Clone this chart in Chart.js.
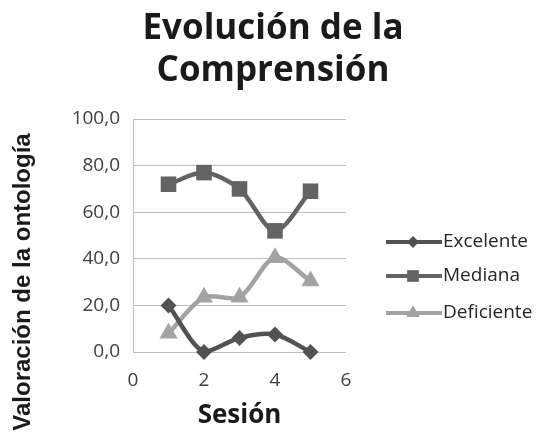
<!DOCTYPE html>
<html>
<head>
<meta charset="utf-8">
<script src="https://cdn.jsdelivr.net/npm/chart.js@4.4.0/dist/chart.umd.min.js"></script>
<style>
  html, body { margin: 0; padding: 0; background: #fff; }
  #wrap { width: 546px; height: 443px; position: relative; }
</style>
</head>
<body>
<div id="wrap"><canvas id="chart"></canvas></div>
<script>
// chart data
const sesiones = [1, 2, 3, 4, 5];
const excelente = [20, 0, 6, 7.5, 0];
const mediana = [72, 77, 70, 52, 69];
const deficiente = [8, 23.5, 23.5, 40.5, 30.5];
const seriesNames = ['Excelente', 'Mediana', 'Deficiente'];
const xTicks = [0, 2, 4, 6];
const yTicks = [0, 20, 40, 60, 80, 100];

const colors = ['#525252', '#636363', '#a3a3a3'];
const shapes = ['rectRot', 'rect', 'triangle'];
const radii = [8, 11, 10.5];

function toPoints(values) {
  return sesiones.map((s, i) => ({ x: s, y: values[i] }));
}

const allValues = [excelente, mediana, deficiente];
const datasets = allValues.map((vals, i) => ({
  label: seriesNames[i],
  data: toPoints(vals),
  showLine: true,
  borderColor: colors[i],
  backgroundColor: colors[i],
  borderWidth: 4.5,
  tension: 0.3,
  pointStyle: shapes[i],
  pointRadius: radii[i],
  pointBorderWidth: 0,
  clip: false,
  xAxisID: 'x',
  yAxisID: 'y'
}));

// y axis title and legend drawn by hand to match the original layout
const extras = {
  id: 'extras',
  afterDraw(chart) {
    const ctx = chart.ctx;
    ctx.save();
    // y title
    ctx.translate(23, 282);
    ctx.rotate(-Math.PI / 2);
    ctx.font = 'bold 24px "Liberation Sans"';
    ctx.fillStyle = '#1a1a1a';
    ctx.textAlign = 'center';
    ctx.textBaseline = 'middle';
    ctx.fillText('Valoración de la ontología', 0, 0);
    ctx.restore();

    // legend
    const legendY = [242, 276, 313];
    chart.data.datasets.forEach((ds, i) => {
      const y = legendY[i];
      ctx.save();
      ctx.strokeStyle = ds.borderColor;
      ctx.lineWidth = 4;
      ctx.beginPath();
      ctx.moveTo(386, y);
      ctx.lineTo(442, y);
      ctx.stroke();
      ctx.fillStyle = ds.backgroundColor;
      Chart.helpers.drawPoint(ctx, { pointStyle: ds.pointStyle, radius: ds.pointRadius * 0.75, borderWidth: 0 }, 413, y);
      ctx.font = '19px "Open Sans"';
      ctx.fillStyle = '#262626';
      ctx.textAlign = 'left';
      ctx.textBaseline = 'middle';
      ctx.fillText(ds.label, 443, y);
      ctx.restore();
    });
  }
};

new Chart(document.getElementById('chart'), {
  type: 'scatter',
  data: { datasets: datasets },
  options: {
    responsive: true,
    maintainAspectRatio: false,
    animation: false,
    layout: { padding: 0 },
    plugins: {
      legend: { display: false },
      tooltip: { enabled: false },
      title: {
        display: true,
        text: ['Evolución de la', 'Comprensión'],
        color: '#1a1a1a',
        font: { family: 'Open Sans', size: 35, weight: 'bold', lineHeight: 1.2 },
        padding: { top: 8, bottom: 27 }
      }
    },
    scales: {
      x: {
        type: 'linear',
        min: xTicks[0],
        max: xTicks[xTicks.length - 1],
        afterBuildTicks: (scale) => { scale.ticks = xTicks.map(v => ({ value: v })); },
        afterFit: (scale) => { scale.height = 91; },
        grid: { display: false, drawTicks: false },
        border: { display: false },
        ticks: { padding: 17, color: '#404040', font: { family: 'Open Sans', size: 19 } },
        title: {
          display: true,
          text: 'Sesión',
          color: '#1a1a1a',
          font: { family: 'Open Sans', size: 26, weight: 'bold' },
          padding: { top: 0, bottom: 12 }
        }
      },
      y: {
        min: yTicks[0],
        max: yTicks[yTicks.length - 1],
        afterBuildTicks: (scale) => { scale.ticks = yTicks.map(v => ({ value: v })); },
        afterFit: (scale) => { scale.width = 133; },
        grid: { color: '#bdbdbd', lineWidth: 1, drawTicks: false },
        border: { display: true, color: '#bdbdbd', width: 1 },
        ticks: {
          padding: 13,
          color: '#404040',
          font: { family: 'Open Sans', size: 19 },
          callback: (v) => v.toFixed(1).replace('.', ',')
        }
      },
      // empty right-hand space where the legend sits
      legendSpace: {
        type: 'linear',
        position: 'right',
        grid: { display: false, drawTicks: false },
        border: { display: false },
        ticks: { display: false },
        afterFit: (scale) => { scale.width = 200; }
      }
    }
  },
  plugins: [extras]
});
</script>
</body>
</html>
